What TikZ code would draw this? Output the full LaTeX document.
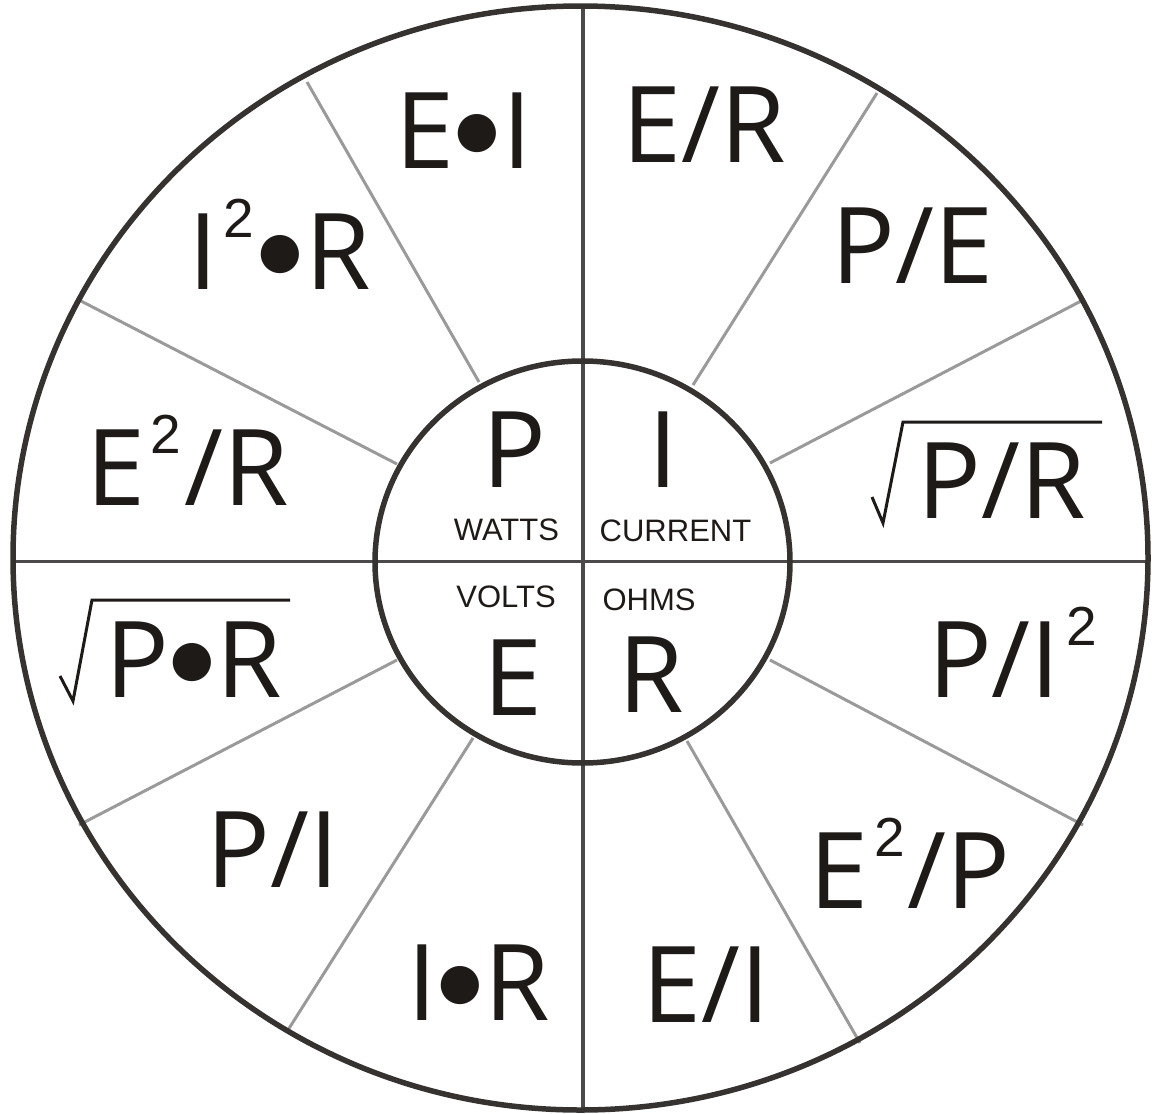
\documentclass[tikz,border=0pt]{standalone}
\usepackage{fontspec}
\setmainfont{Open Sans}
\newfontfamily\lblfont{Liberation Sans}
\newfontfamily\symfont{DejaVu Sans}
\newcommand\bdot{\hspace{1pt}\raisebox{22pt}{\symfont\fontsize{50}{50}\selectfont ●}\hspace{3pt}}
\newcommand\suptwo{\hspace{6pt}\raisebox{52pt}{\lblfont\fontsize{55}{55}\selectfont 2}\hspace{3pt}}
\definecolor{ring}{HTML}{353230}
\definecolor{axis}{HTML}{4B4949}
\definecolor{spoke}{HTML}{9A9A9A}
\definecolor{ink}{HTML}{1E1A17}
\tikzset{
  big/.style={anchor=base, inner sep=0pt, text=ink, font=\fontsize{106}{106}\selectfont},
  small/.style={anchor=base, inner sep=0pt, text=ink, font=\lblfont\fontsize{31}{31}\selectfont},
  ringline/.style={draw=ring, line width=5.5pt},
  axisline/.style={draw=axis, line width=3.5pt},
  spokeline/.style={draw=spoke, line width=3pt},
  radical/.style={draw=ink, line width=3pt, line join=miter}
}
\begin{document}
\begin{tikzpicture}[x=1pt,y=-1pt]
\useasboundingbox (0,0) rectangle (1152,1114);
% spoke end points
\coordinate (o1) at (307,82);   \coordinate (i1) at (479,382);
\coordinate (o2) at (877,93);   \coordinate (i2) at (693,385);
\coordinate (o3) at (1083,300); \coordinate (i3) at (770,463);
\coordinate (o4) at (79,300);   \coordinate (i4) at (397,464);
\coordinate (o5) at (79,825);   \coordinate (i5) at (397,660);
\coordinate (o6) at (288,1030); \coordinate (i6) at (473,738);
\coordinate (o7) at (860,1043); \coordinate (i7) at (687,741);
\coordinate (o8) at (1083,825); \coordinate (i8) at (770,660);
\foreach \k in {1,...,8} { \draw[spokeline] (o\k) -- (i\k); }
% axes
\coordinate (top) at (583,6);   \coordinate (bot) at (583,1110);
\coordinate (lft) at (13,561.5); \coordinate (rgt) at (1148,561.5);
\draw[axisline] (top) -- (bot);
\draw[axisline] (lft) -- (rgt);
% rings
\draw[ringline] (580.5,558) ellipse [x radius=567.5, y radius=552];
\draw[ringline] (582.5,562) ellipse [x radius=207.5, y radius=201];
% centre
\node[big] (cP) at (514,487) {P};
\node[big] (cI) at (663.5,487) {I};
\node[big] (cE) at (512.5,715) {E};
\node[big] (cR) at (651.5,712) {R};
\node[small] (watts) at (506.5,540) {WATTS};
\node[small] (current) at (675.5,541) {CURRENT};
\node[small] (volts) at (506,607) {VOLTS};
\node[small] (ohms) at (649,610) {OHMS};
% outer formulas
\node[big] (ei) at (464,168) {E\bdot I};
\node[big] (i2r) at (279.5,289) {I\suptwo\bdot R};
\node[big] (er) at (704,162) {E/R};
\node[big] (pe) at (912.5,283) {P/E};
\node[big] (e2r) at (187.5,505) {E\suptwo/R};
\node[big] (pr) at (1002,518) {P/R};
\node[big] (ppr) at (194,697) {P\bdot R};
\node[big] (pi2) at (1012.5,697) {P/I\suptwo};
\node[big] (pi) at (272.5,887) {P/I};
\node[big] (ir) at (479,1020) {I\bdot R};
\node[big] (eI) at (706,1022) {E/I};
\node[big] (e2p) at (910,908) {E\suptwo/P};
% radical signs
\draw[radical] (872,497) -- (883,523) -- (903,422) -- (1102,422);
\draw[radical] (60,676) -- (73,701) -- (92,600) -- (290,600);
\end{tikzpicture}
\end{document}
